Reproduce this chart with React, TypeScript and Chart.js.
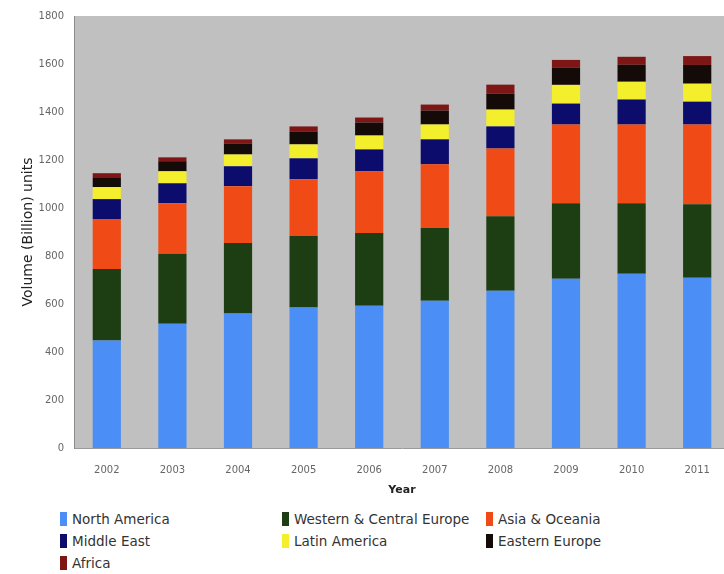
import React, { useEffect, useRef } from "react";
import { Chart, registerables } from "chart.js";

Chart.register(...registerables);

const years = ["2002", "2003", "2004", "2005", "2006", "2007", "2008", "2009", "2010", "2011"];
const yTicks = [0, 200, 400, 600, 800, 1000, 1200, 1400, 1600, 1800];

const northAmerica = [448, 518, 560, 585, 593, 614, 655, 705, 726, 709];
const westernCentralEurope = [298, 291, 294, 298, 303, 303, 311, 315, 294, 307];
const asiaOceania = [208, 211, 237, 237, 257, 265, 282, 328, 328, 332];
const middleEast = [83, 83, 83, 87, 91, 104, 92, 87, 104, 95];
const latinAmerica = [50, 50, 49, 58, 58, 62, 70, 78, 74, 75];
const easternEurope = [41, 42, 46, 54, 54, 58, 67, 71, 71, 78];
const africa = [17, 16, 17, 21, 21, 25, 37, 33, 33, 37];

const seriesNames = [
  "North America",
  "Western & Central Europe",
  "Asia & Oceania",
  "Middle East",
  "Latin America",
  "Eastern Europe",
  "Africa",
];
const seriesData = [northAmerica, westernCentralEurope, asiaOceania, middleEast, latinAmerica, easternEurope, africa];
const seriesColors = ["#4b8ff6", "#1c3e12", "#f04b16", "#0c0c6c", "#f4ef2c", "#140a08", "#7e1616"];

const FONT = "'DejaVu Sans', Verdana, sans-serif";

const plotBg = {
  id: "plotBg",
  beforeDraw(chart: any) {
    const { ctx, chartArea } = chart;
    ctx.save();
    ctx.fillStyle = "#c0c0c0";
    ctx.fillRect(chartArea.left, chartArea.top, chartArea.right - chartArea.left, chartArea.bottom - chartArea.top);
    ctx.restore();
  },
};

export default function App() {
  const ref = useRef<HTMLCanvasElement | null>(null);

  useEffect(() => {
    if (!ref.current) return;
    const chart = new Chart(ref.current, {
      type: "bar",
      data: {
        labels: years,
        datasets: seriesNames.map((name, i) => ({
          label: name,
          data: seriesData[i],
          backgroundColor: seriesColors[i],
          borderWidth: 0,
          barPercentage: 0.43,
          categoryPercentage: 1,
        })),
      },
      options: {
        animation: false,
        responsive: false,
        devicePixelRatio: 1,
        layout: { padding: { top: 14, left: 0, right: 0, bottom: 0 } },
        plugins: {
          legend: { display: false },
          tooltip: { enabled: false },
        },
        scales: {
          x: {
            stacked: true,
            grid: { display: false, drawTicks: false },
            border: { display: true, color: "#9a9a9a" },
            ticks: { padding: 16, color: "#666", font: { family: FONT, size: 10 } },
            title: {
              display: true,
              text: "Year",
              color: "#222",
              font: { family: FONT, size: 11, weight: "bold" },
              padding: { top: 0, bottom: 3 },
            },
            afterFit(scale: any) {
              scale.height = 52;
            },
          },
          y: {
            stacked: true,
            min: 0,
            max: 1800,
            afterBuildTicks(scale: any) {
              scale.ticks = yTicks.map((v) => ({ value: v }));
            },
            grid: { display: false, drawTicks: false },
            border: { display: true, color: "#8a8a8a" },
            ticks: {
              padding: 10,
              color: "#666",
              font: { family: FONT, size: 10 },
              callback: (v: any) => String(v),
            },
            title: {
              display: true,
              text: "Volume (Billion) units",
              color: "#222",
              font: { family: FONT, size: 14 },
              padding: { top: 20, bottom: 0 },
            },
            afterFit(scale: any) {
              scale.width = 74;
            },
          },
        },
      },
      plugins: [plotBg],
    });
    return () => chart.destroy();
  }, []);

  const colLeft = [60, 282, 486];

  return (
    <div
      style={{
        position: "fixed",
        left: 0,
        top: 0,
        width: 724,
        height: 574,
        overflow: "hidden",
        background: "#fff",
      }}
    >
      <canvas ref={ref} width={730} height={500} style={{ position: "absolute", left: 0, top: 0, width: 730, height: 500 }} />
      {seriesNames.map((name, i) => {
        const row = Math.floor(i / 3);
        const col = i % 3;
        return (
          <div
            key={name}
            style={{
              position: "absolute",
              left: colLeft[col],
              top: 511 + row * 22,
              height: 16,
              display: "flex",
              alignItems: "center",
              fontFamily: FONT,
              fontSize: 13.5,
              color: "#333",
              whiteSpace: "nowrap",
            }}
          >
            <span
              style={{
                display: "inline-block",
                width: 7,
                height: 14,
                background: seriesColors[i],
                marginRight: 5,
              }}
            />
            {name}
          </div>
        );
      })}
    </div>
  );
}
